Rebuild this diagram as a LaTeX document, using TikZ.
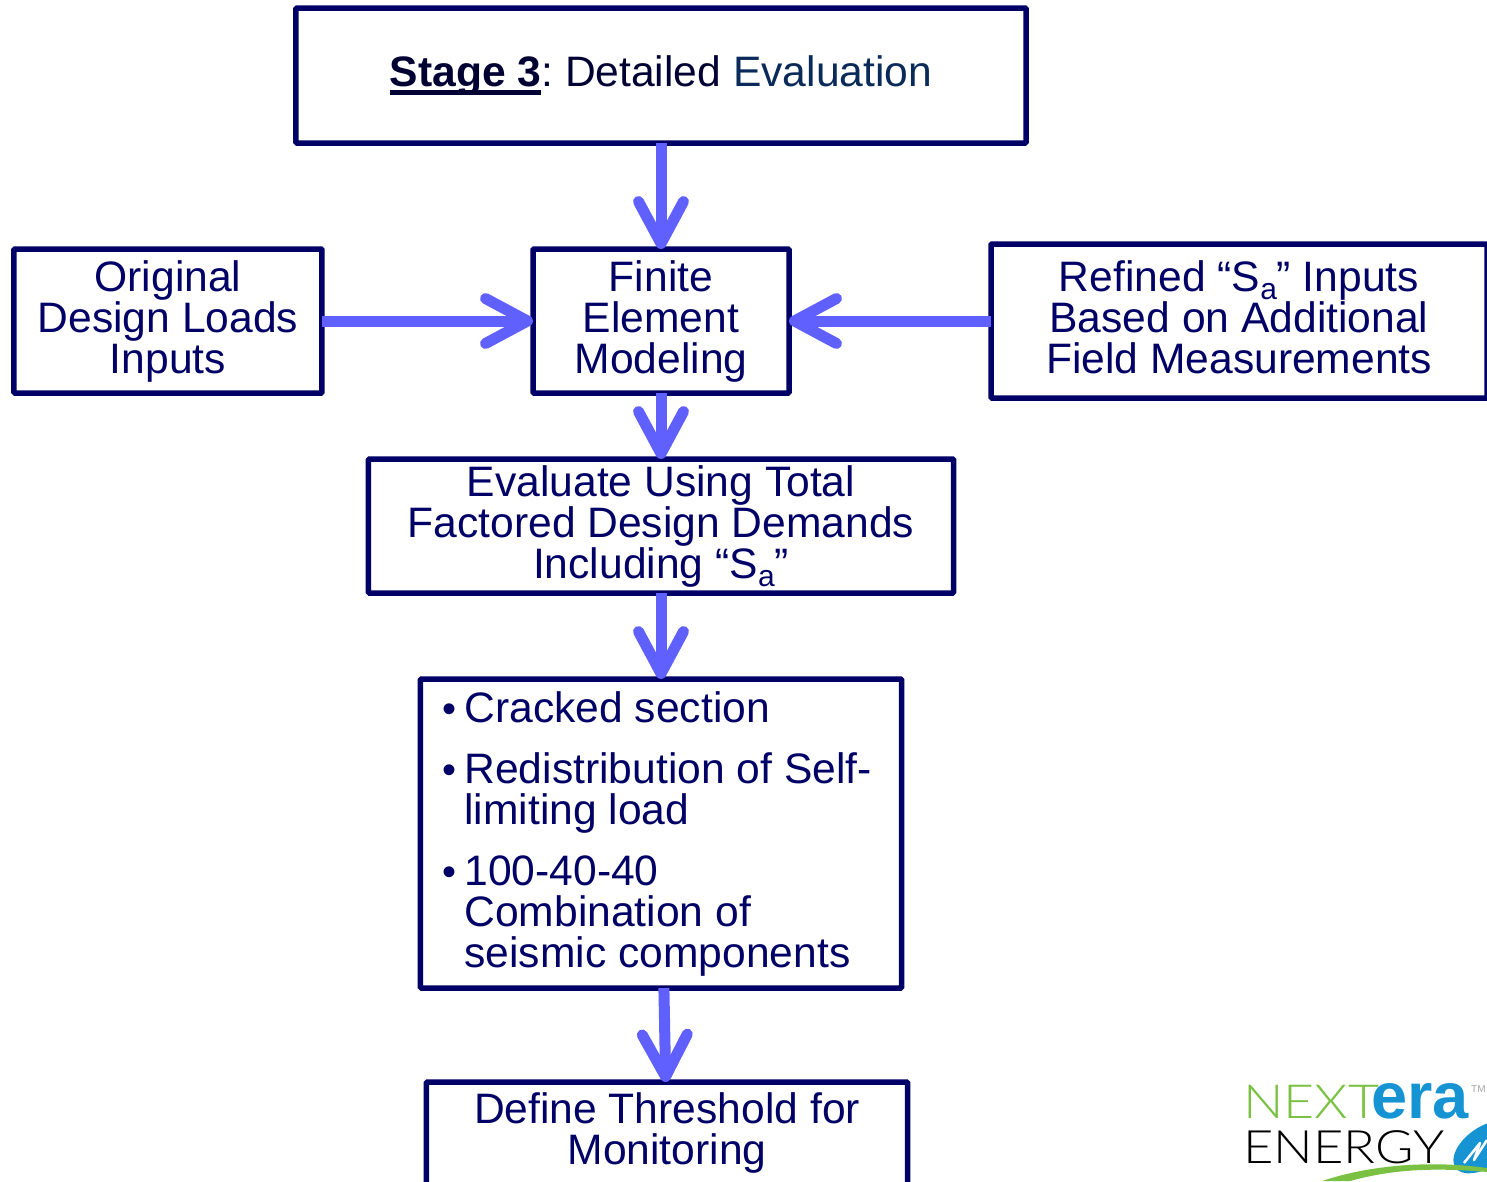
\documentclass[tikz,border=0pt]{standalone}
\usepackage{fontspec}
\setmainfont{Liberation Sans}
\newfontfamily\logothin{Lato}[UprightFont=* Light]
\usetikzlibrary{arrows.meta}
\definecolor{boxnavy}{HTML}{000066}
\definecolor{flowblue}{HTML}{6060FF}
\definecolor{stagedark}{HTML}{000033}
\definecolor{evalblue}{HTML}{0A2A5A}
\definecolor{logogreen}{HTML}{7AC143}
\definecolor{logoblue}{HTML}{1593D2}
\newcommand{\stagerule}[1]{\setbox0\hbox{#1}\rlap{\smash{\raisebox{-9pt}{\rule{\wd0}{5pt}}}}\box0}
\newcommand{\subsa}{\raisebox{-8pt}{\fontsize{30}{30}\selectfont a}}
\newcommand{\bitem}{\hspace*{44pt}\llap{\fontsize{40}{40}\selectfont\textbullet\hspace{8pt}}}
\tikzstyle{block} = [draw=boxnavy, line width=5.5pt, rectangle, rounded corners=1pt, outer sep=0pt,
    inner sep=0pt, align=center, text=boxnavy, font=\fontsize{42.6}{41}\selectfont]
\tikzstyle{flow} = [draw=flowblue, line width=11pt,
    -{Straight Barb[length=42pt,width=45pt,round]}]
\begin{document}
\begin{tikzpicture}[node distance=245.5pt]

	\useasboundingbox (-661pt,75.5pt) rectangle (826pt,-1105.5pt);

	% Top of the flow
	\node [block, minimum width=730pt, minimum height=135pt] (stage)
		{\textcolor{stagedark}{\textbf{\stagerule{Stage 3}}:\hspace{-4pt} Detailed} \textcolor{evalblue}{Evaluation}};

	% Middle row
	\node [block, below of=stage, minimum width=256pt, minimum height=144pt] (fem)
		{Finite\\Element\\Modeling};
	\node [block, left of=fem, node distance=493pt, minimum width=308pt, minimum height=144pt] (orig)
		{Original\\Design Loads\\Inputs};
	\node [block, right of=fem, node distance=578pt, minimum width=496pt, minimum height=154pt] (refined)
		{Refined “S\subsa” Inputs\\Based on Additional\\Field Measurements\vphantom{g}};

	% Lower boxes
	\node [block, below of=fem, node distance=205pt, minimum width=585pt, minimum height=134pt] (eval)
		{Evaluate Using Total\\Factored Design Demands\\Including “S\subsa”};
	\node [block, below of=eval, node distance=307.5pt, text width=481pt, minimum height=309pt, align=flush left] (bullets)
		{\bitem Cracked section\\[20pt]
		 \bitem Redistribution of Self-\\
		 \hspace*{44pt}limiting load\\[20pt]
		 \bitem 100-40-40\\
		 \hspace*{44pt}Combination of\\
		 \hspace*{44pt}seismic components};
	\node [block, below of=bullets, node distance=318.5pt, xshift=6pt, minimum width=481pt, minimum height=140pt, text depth=46pt] (define)
		{Define Threshold for\\Monitoring};

	% Connectors
	\draw [flow] (stage) -- (fem);
	\draw [flow] (orig) -- (fem);
	\draw [flow] (refined) -- (fem);
	\draw [flow] (fem) -- (eval);
	\draw [flow] (eval) -- (bullets);
	\draw [flow] (bullets) -- (define);

	% Logo, in pixels of the page
	\begin{scope}[shift={(-661pt,75.5pt)}, x=1pt, y=-1pt]
		\node [anchor=base west, inner sep=0pt, text=logogreen, font=\fontsize{47}{47}\logothin] (next) at (1243,1118) {\scalebox{1.14}[1]{NEXT}};
		\node [anchor=base west, inner sep=0pt, text=logoblue, font=\fontsize{65}{65}\selectfont\bfseries] (era) at (1371,1118) {era};
		\node [anchor=base west, inner sep=0pt, text=gray!70, font=\fontsize{10}{10}\selectfont] (tm) at (1471,1092) {TM};
		\node [anchor=base west, inner sep=0pt, text=black, font=\fontsize{46}{46}\logothin] (energy) at (1243,1163) {\scalebox{1.14}[1]{ENERGY}};
		\fill [logoblue, rotate around={35:(1485,1147)}] (1485,1147) ellipse (36 and 20);
		\draw [white, line width=2.5pt, line join=round] (1464,1163) -- (1480,1143) -- (1474,1160) -- (1487,1140);
		\fill [logogreen] (1322,1181) .. controls (1370,1165) and (1430,1160) .. (1487,1168)
			-- (1487,1172) .. controls (1430,1167) and (1390,1170) .. (1350,1181) -- cycle;
	\end{scope}

\end{tikzpicture}
\end{document}
